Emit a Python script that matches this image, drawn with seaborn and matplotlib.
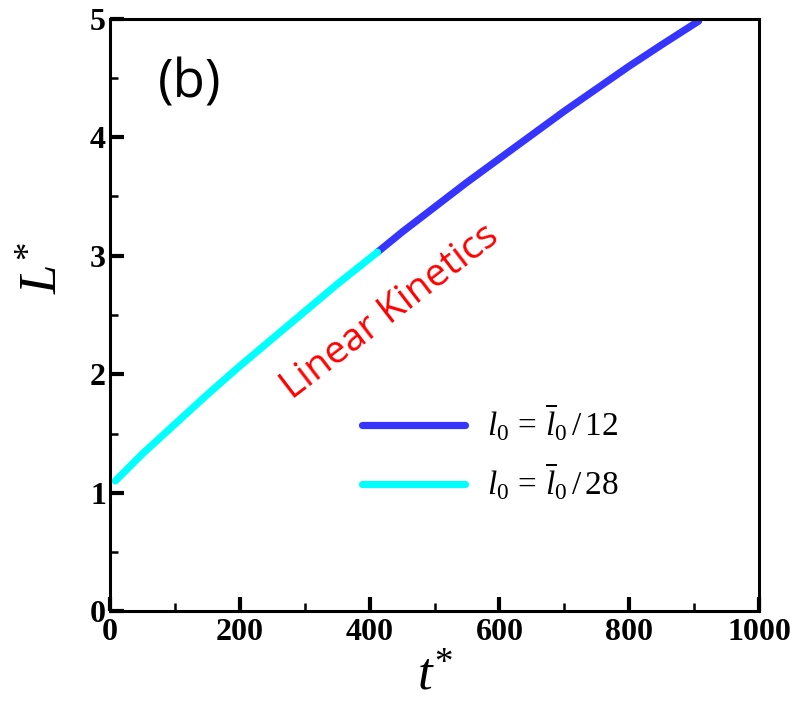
import numpy as np
import pandas as pd
import seaborn as sns
import matplotlib.pyplot as plt
from matplotlib.ticker import MultipleLocator

# ---- data ----
t_28 = [8, 50, 100, 150, 200, 250, 300, 350, 412]
L_28 = [1.10, 1.33, 1.58, 1.83, 2.07, 2.30, 2.53, 2.76, 3.03]

t_12 = [412, 450, 500, 550, 600, 650, 700, 750, 800, 850, 907]
L_12 = [3.03, 3.20, 3.41, 3.62, 3.82, 4.02, 4.22, 4.41, 4.60, 4.78, 4.98]

series_labels = [r'$l_0\,=\,\overline{l}_0\,/\,12$', r'$l_0\,=\,\overline{l}_0\,/\,28$']
series_colors = ['#3535FF', '#00FFFF']

x_ticks = [0, 200, 400, 600, 800, 1000]
y_ticks = [0, 1, 2, 3, 4, 5]

panel_label = '(b)'
annot_text = 'Linear Kinetics'

# ---- styling ----
sns.set_theme(style='white')
plt.rcParams['mathtext.fontset'] = 'custom'
plt.rcParams['mathtext.rm'] = 'Liberation Serif'
plt.rcParams['mathtext.it'] = 'Liberation Serif:italic'
plt.rcParams['mathtext.bf'] = 'Liberation Serif:bold'
plt.rcParams['font.family'] = ['Liberation Serif', 'DejaVu Sans']
plt.rcParams['text.color'] = 'black'

df = pd.concat([
    pd.DataFrame({'t': t_12, 'L': L_12, 'series': series_labels[0]}),
    pd.DataFrame({'t': t_28, 'L': L_28, 'series': series_labels[1]}),
], ignore_index=True)

fig = plt.figure(figsize=(8.1, 7.2), dpi=100)
ax = fig.add_axes([0.136, 0.151, 0.801, 0.823])

sns.lineplot(data=df, x='t', y='L', hue='series', hue_order=series_labels,
             palette=series_colors, linewidth=5.2, estimator=None, sort=False,
             ax=ax)

ax.set_xlim(0, 1000)
ax.set_ylim(0, 5)
ax.set_xticks(x_ticks)
ax.set_yticks(y_ticks)
ax.xaxis.set_minor_locator(MultipleLocator(100))
ax.yaxis.set_minor_locator(MultipleLocator(0.5))
ax.tick_params(axis='both', which='major', direction='in', length=10, width=3,
               colors='black', labelsize=23, bottom=True, left=True, top=False, right=False)
ax.tick_params(axis='both', which='minor', direction='in', length=6, width=1.8,
               colors='black', bottom=True, left=True, top=False, right=False)
ax.tick_params(axis='x', pad=5)
ax.tick_params(axis='y', pad=3)
for lbl in ax.get_xticklabels() + ax.get_yticklabels():
    lbl.set_fontweight('bold')
    lbl.set_fontfamily('Liberation Serif')

for s in ax.spines.values():
    s.set_visible(True)
    s.set_color('black')
    s.set_linewidth(2.2)

ax.set_xlabel(r'$t^{*}$', fontsize=38, labelpad=4, color='black')
ax.set_ylabel(r'$L^{*}$', fontsize=38, color='black')
ax.yaxis.set_label_coords(-0.064, 0.58)

handles, labels = ax.get_legend_handles_labels()
leg = ax.legend(handles, labels, loc='center left', bbox_to_anchor=(0.342, 0.268),
                frameon=False, fontsize=24, handlelength=3.1, handletextpad=0.65,
                labelspacing=0.55)
for h in leg.get_lines():
    h.set_linewidth(5.2)

ax.text(0.123, 0.89, panel_label, transform=ax.transAxes, fontsize=38,
        family='Open Sans', color='black', ha='center', va='center')
ax.text(0.432, 0.505, annot_text, transform=ax.transAxes, fontsize=28,
        family='Open Sans', color='red', rotation=37.5, ha='center', va='center',
        rotation_mode='anchor')

fig.savefig('out.png', dpi=100)
